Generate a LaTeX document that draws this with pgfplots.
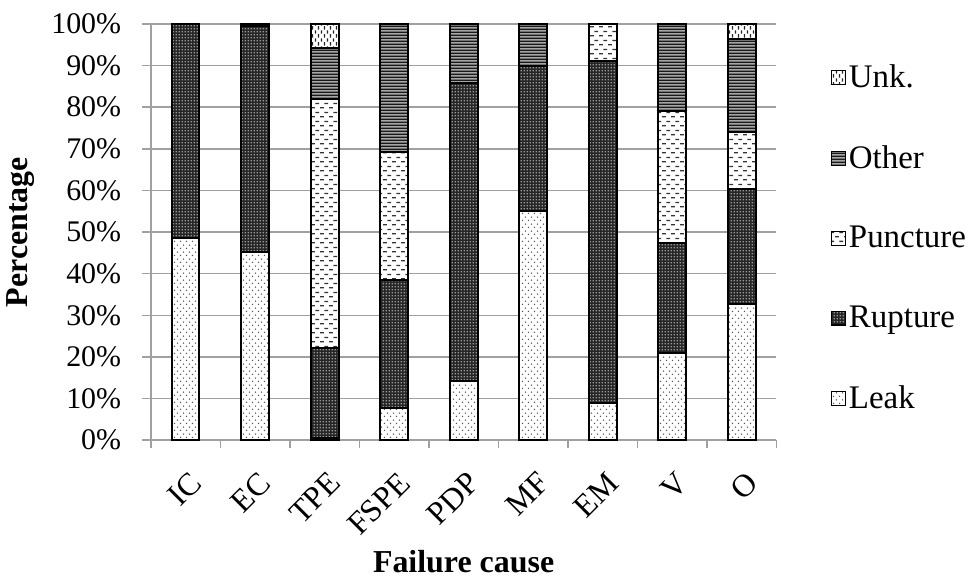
\documentclass[border=0pt]{standalone}
\usepackage{fontspec}
\setmainfont{Liberation Serif}
\usepackage{pgfplots}
\pgfplotsset{compat=1.18}
\usetikzlibrary{patterns}

% Fill patterns for the five failure modes
\pgfdeclarepatternformonly{leakdots}{\pgfqpoint{0pt}{0pt}}{\pgfqpoint{3pt}{3.4pt}}{\pgfqpoint{3pt}{3.4pt}}{%
  \pgfpathcircle{\pgfqpoint{0.75pt}{0.85pt}}{0.4pt}%
  \pgfpathcircle{\pgfqpoint{2.25pt}{2.55pt}}{0.4pt}%
  \pgfusepath{fill}}
\pgfdeclarepatternformonly{rupgrid}{\pgfqpoint{0pt}{0pt}}{\pgfqpoint{1.6pt}{1.6pt}}{\pgfqpoint{1.6pt}{1.6pt}}{%
  \pgfpathrectangle{\pgfqpoint{0.35pt}{0.4pt}}{\pgfqpoint{0.9pt}{0.8pt}}%
  \pgfusepath{fill}}
\pgfdeclarepatternformonly{puncdash}{\pgfqpoint{0pt}{0pt}}{\pgfqpoint{4.6pt}{4.4pt}}{\pgfqpoint{4.6pt}{4.4pt}}{%
  \pgfpathrectangle{\pgfqpoint{0.1pt}{0.8pt}}{\pgfqpoint{2pt}{0.65pt}}%
  \pgfpathrectangle{\pgfqpoint{2.4pt}{3.0pt}}{\pgfqpoint{2pt}{0.65pt}}%
  \pgfusepath{fill}}
\pgfdeclarepatternformonly{otherlines}{\pgfqpoint{0pt}{0pt}}{\pgfqpoint{1pt}{1.65pt}}{\pgfqpoint{1pt}{1.65pt}}{%
  \pgfpathrectangle{\pgfqpoint{0pt}{0pt}}{\pgfqpoint{1pt}{0.8pt}}%
  \pgfusepath{fill}}
\pgfdeclarepatternformonly{unkdash}{\pgfqpoint{0pt}{0pt}}{\pgfqpoint{3pt}{4pt}}{\pgfqpoint{3pt}{4pt}}{%
  \pgfpathrectangle{\pgfqpoint{0.5pt}{0.2pt}}{\pgfqpoint{0.55pt}{1.8pt}}%
  \pgfpathrectangle{\pgfqpoint{2.0pt}{2.2pt}}{\pgfqpoint{0.55pt}{1.6pt}}%
  \pgfusepath{fill}}

\definecolor{gridgray}{RGB}{160,160,160}

% Share of failure modes per failure cause (percent)
\pgfplotstableread{
x  leak  rupture  puncture  other  unk
0  48.6  51.4     0         0      0
1  45.2  54.2     0         0.6    0
2  0.5   21.7     59.7      12.4   5.7
3  7.6   30.8     30.8      30.8   0
4  14.2  71.7     0         14.1   0
5  55.0  34.9     0         10.1   0
6  8.9   82.2     8.9       0      0
7  20.9  26.5     31.6      21.0   0
8  32.6  27.8     13.6      22.4   3.6
}\causedata

\begin{document}
\begin{tikzpicture}
\begin{axis}[
  scale only axis,
  width=313.5pt, height=208.5pt,
  ybar stacked, bar width=14pt,
  xmin=-0.5, xmax=8.5, ymin=0, ymax=100,
  xtick={0,...,8},
  xticklabels={IC,EC,TPE,FSPE,PDP,MF,EM,V,O},
  minor xtick={-0.5,0.5,...,8.5},
  ytick={0,10,...,100},
  yticklabel={\pgfmathprintnumber{\tick}\%},
  /pgf/number format/assume math mode=true,
  tick align=outside,
  major tick length=4.5pt, minor tick length=4pt,
  major x tick style={draw=none},
  minor x tick style={gridgray, line width=0.75pt},
  major y tick style={gridgray, line width=0.75pt},
  ymajorgrids, major grid style={gridgray, line width=0.75pt},
  axis x line*=bottom, axis y line*=left,
  axis line style={gridgray, line width=0.75pt, -},
  tick label style={font=\fontsize{15}{17}\selectfont},
  xticklabel style={font=\fontsize{16}{18}\selectfont, rotate=45, anchor=north east, xshift=-3pt, yshift=-5pt},
  yticklabel style={xshift=-6.8pt},
  xlabel={\textbf{Failure cause}},
  ylabel={\textbf{Percentage}},
  label style={font=\fontsize{16}{18}\selectfont},
  xlabel style={yshift=1.5pt},
  ylabel shift=1.5pt,
  legend image code/.code={\draw[#1, line width=0.6pt] (0pt,-3.5pt) rectangle (7pt,3.5pt);},
  reverse legend,
  legend style={draw=none, fill=none, at={(1,0.5)}, anchor=west, xshift=24pt, yshift=-3pt,
    row sep=23.5pt, font=\fontsize{16.5}{18}\selectfont, legend cell align=left,
    nodes={inner xsep=1.5pt}},
  every axis plot/.append style={draw=black, line width=1pt},
]
\addplot[fill=white, postaction={pattern=leakdots, pattern color=black!65}] table[x=x, y=leak] {\causedata};
\addplot[fill=black!85, postaction={pattern=rupgrid, pattern color=black!40}] table[x=x, y=rupture] {\causedata};
\addplot[fill=white, postaction={pattern=puncdash, pattern color=black!80}] table[x=x, y=puncture] {\causedata};
\addplot[fill=black!35, postaction={pattern=otherlines, pattern color=black!90}] table[x=x, y=other] {\causedata};
\addplot[fill=white, postaction={pattern=unkdash, pattern color=black!85}] table[x=x, y=unk] {\causedata};
\legend{Leak,Rupture,Puncture,Other,Unk.}
\coordinate (lowleft) at (rel axis cs:0,0);
\coordinate (upright) at (rel axis cs:1,1);
\end{axis}
% page margins around the axis
\path (lowleft) ++(-75.5pt,-70.5pt);
\path (upright) ++(98.5pt,12pt);
\end{tikzpicture}
\end{document}
